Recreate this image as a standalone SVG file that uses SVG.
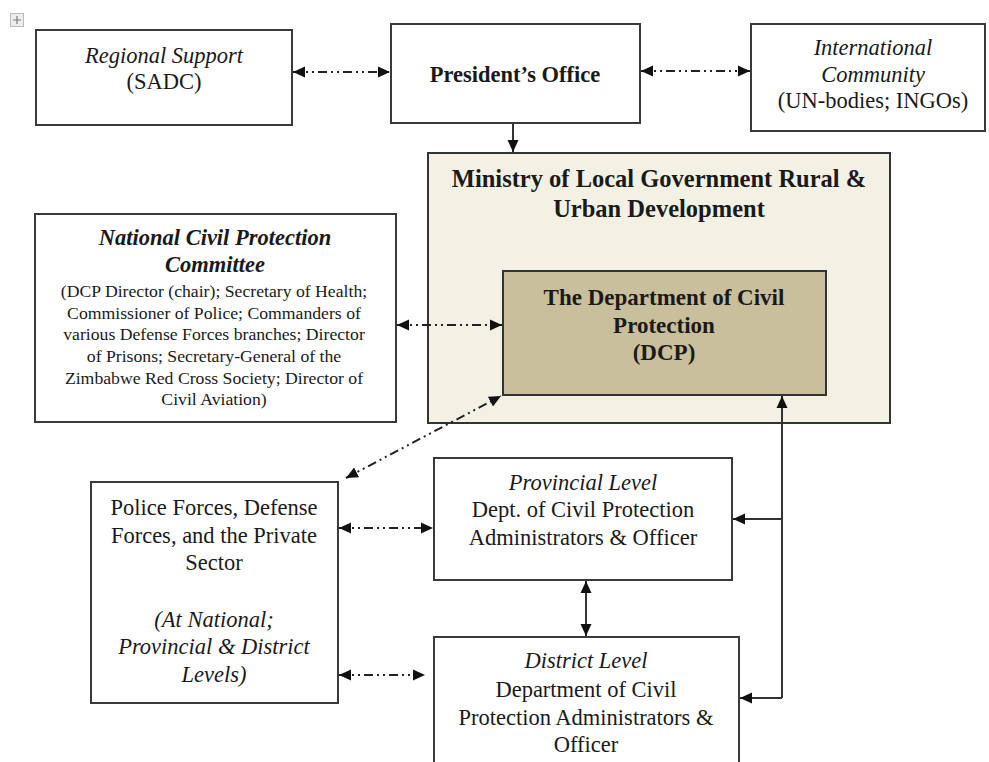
<svg xmlns="http://www.w3.org/2000/svg" width="989" height="762" viewBox="0 0 989 762">
<style>
  .box{fill:#ffffff;stroke:#3a3a3a;stroke-width:2}
  .min{fill:#f2f1e4;stroke:#333333;stroke-width:2}
  .dcp{fill:#c9bf9c;stroke:#333333;stroke-width:2}
  text{font-family:"Liberation Serif","Times New Roman",serif;fill:#1a1a1a;text-anchor:middle}
  .t{font-size:22.5px}
  .b{font-weight:bold}
  .i{font-style:italic}
  .s{font-size:17.7px}
  .dd{fill:none;stroke:#222;stroke-width:2;stroke-dasharray:9 4 2 4 2 4}
  .sl{fill:none;stroke:#333;stroke-width:2}
</style>
<defs>
  <marker id="ah" markerUnits="userSpaceOnUse" markerWidth="12" markerHeight="12" refX="12" refY="5.5" orient="auto-start-reverse" viewBox="0 0 12 11">
    <path d="M0,0 L12,5.5 L0,11 z" fill="#111"/>
  </marker>
</defs>
<rect width="989" height="762" fill="#ffffff"/>
<g id="icon">
  <rect x="10.5" y="13.5" width="13" height="13" fill="#eeeeee" stroke="#bbbbbb" stroke-width="1"/>
  <path d="M13,20 H21 M17,16 V24" stroke="#777" stroke-width="1.2"/>
</g>
<g id="regional">
  <rect class="box" x="36" y="30" width="256" height="95"/>
  <text class="t i" x="164" y="63">Regional Support</text>
  <text class="t" x="164" y="89">(SADC)</text>
</g>
<g id="president">
  <rect class="box" x="391" y="24" width="249" height="99"/>
  <text class="t b" x="515" y="82">President’s Office</text>
</g>
<g id="international">
  <rect class="box" x="751" y="24" width="234" height="107"/>
  <text class="t i" x="873" y="55">International</text>
  <text class="t i" x="873" y="82">Community</text>
  <text class="t" x="873" y="108">(UN-bodies; INGOs)</text>
</g>
<g id="ministry">
  <rect class="min" x="428" y="153" width="462" height="270"/>
  <text class="b" style="font-size:24.5px" x="659" y="187">Ministry of Local Government Rural &amp;</text>
  <text class="b" style="font-size:24.5px" x="659" y="217">Urban Development</text>
</g>
<g id="dcp">
  <rect class="dcp" x="503" y="271" width="323" height="124"/>
  <text class="b" style="font-size:23px" x="664" y="305">The Department of Civil</text>
  <text class="b" style="font-size:23px" x="664" y="333">Protection</text>
  <text class="b" style="font-size:23px" x="664" y="360">(DCP)</text>
</g>
<g id="ncpc">
  <rect class="box" x="35" y="214" width="361" height="208"/>
  <text class="t b i" x="215" y="245">National Civil Protection</text>
  <text class="t b i" x="215" y="272">Committee</text>
  <text class="s" x="214" y="297">(DCP Director (chair); Secretary of Health;</text>
  <text class="s" x="214" y="318.5">Commissioner of Police; Commanders of</text>
  <text class="s" x="214" y="340">various Defense Forces branches; Director</text>
  <text class="s" x="214" y="362">of Prisons; Secretary-General of the</text>
  <text class="s" x="214" y="383.5">Zimbabwe Red Cross Society; Director of</text>
  <text class="s" x="214" y="405">Civil Aviation)</text>
</g>
<g id="police">
  <rect class="box" x="91" y="482" width="247" height="221"/>
  <text class="t" x="214" y="515">Police Forces, Defense</text>
  <text class="t" x="214" y="543">Forces, and the Private</text>
  <text class="t" x="214" y="570">Sector</text>
  <text class="t i" x="214" y="627">(At National;</text>
  <text class="t i" x="214" y="654">Provincial &amp; District</text>
  <text class="t i" x="214" y="682">Levels)</text>
</g>
<g id="provincial">
  <rect class="box" x="434" y="458" width="298" height="122"/>
  <text class="t i" x="583" y="490">Provincial Level</text>
  <text class="t" x="583" y="517">Dept. of Civil Protection</text>
  <text class="t" x="583" y="545">Administrators &amp; Officer</text>
</g>
<g id="district">
  <rect class="box" x="434" y="637" width="305" height="140"/>
  <text class="t i" x="586" y="668">District Level</text>
  <text class="t" x="586" y="697">Department of Civil</text>
  <text class="t" x="586" y="725">Protection Administrators &amp;</text>
  <text class="t" x="586" y="752">Officer</text>
</g>
<g id="connectors">
  <path class="dd" d="M293,72 H390" marker-start="url(#ah)" marker-end="url(#ah)"/>
  <path class="dd" d="M641,71 H750" marker-start="url(#ah)" marker-end="url(#ah)"/>
  <path class="sl" d="M513,124 V152" marker-end="url(#ah)"/>
  <path class="dd" d="M397,325 H502" marker-start="url(#ah)" marker-end="url(#ah)"/>
  <path class="dd" d="M346,478 L501,396" marker-start="url(#ah)" marker-end="url(#ah)"/>
  <path class="dd" d="M339,528 H433" marker-start="url(#ah)" marker-end="url(#ah)"/>
  <path class="dd" d="M339,675 H425" marker-start="url(#ah)" marker-end="url(#ah)"/>
  <path class="sl" d="M586,581 V636" marker-start="url(#ah)" marker-end="url(#ah)"/>
  <path class="sl" d="M782,698 V396" marker-end="url(#ah)"/>
  <path class="sl" d="M782,519 H733" marker-end="url(#ah)"/>
  <path class="sl" d="M782,698 H740" marker-end="url(#ah)"/>
</g>
</svg>
